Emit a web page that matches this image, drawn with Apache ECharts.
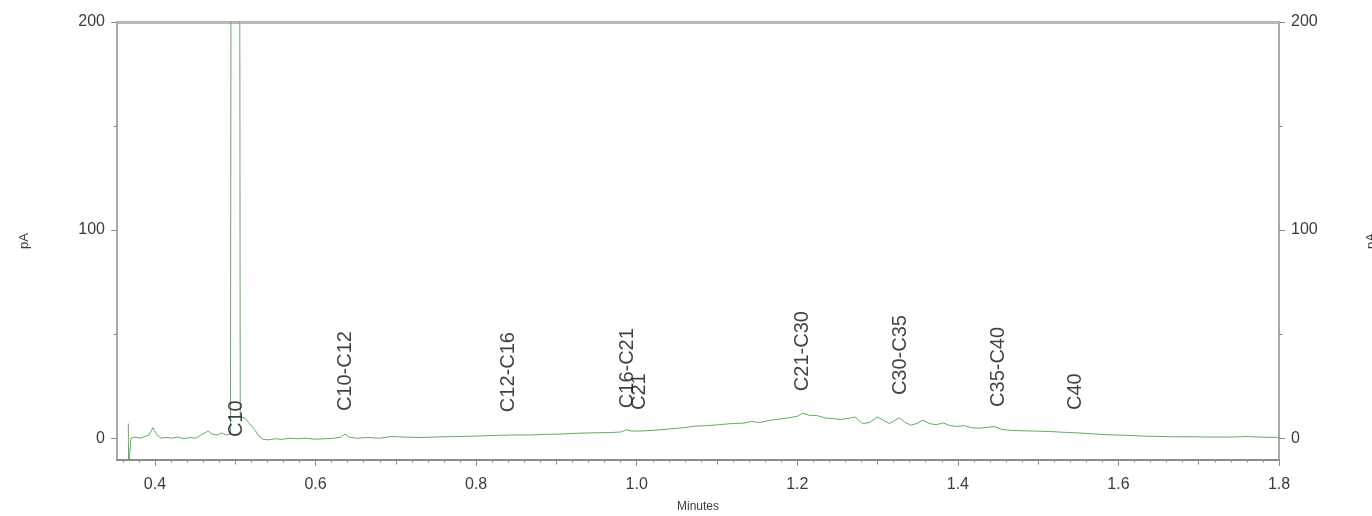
<!DOCTYPE html>
<html>
<head>
<meta charset="utf-8">
<title>Chromatogram</title>
<script src="https://cdn.jsdelivr.net/npm/echarts@6/dist/echarts.min.js"></script>
<style>
  html, body { margin: 0; padding: 0; background: #fff; }
  #chart { width: 1372px; height: 516px; }
</style>
</head>
<body>
<div id="chart"></div>
<script>
// Retention time (min) and detector signal (pA) of the FID trace
const times = [
  0.3668, 0.3672, 0.3685, 0.3700, 0.3751, 0.3813, 0.3876, 0.3925, 0.3975, 0.4025,
  0.4075, 0.4137, 0.4212, 0.4286, 0.4361, 0.4436, 0.4510, 0.4572, 0.4622, 0.4660,
  0.4709, 0.4772, 0.4834, 0.4884, 0.4940, 0.4948, 0.5000, 0.5055, 0.5062, 0.5120,
  0.5180, 0.5244, 0.5294, 0.5344, 0.5406, 0.5493, 0.5580, 0.5680, 0.5780, 0.5880,
  0.5990, 0.6116, 0.6240, 0.6315, 0.6365, 0.6414, 0.6514, 0.6650, 0.6800, 0.6950,
  0.7110, 0.7300, 0.7547, 0.7796, 0.8020, 0.8230, 0.8440, 0.8640, 0.8850, 0.9065,
  0.9290, 0.9513, 0.9688, 0.9810, 0.9870, 0.9936, 1.0098, 1.0285, 1.0434, 1.0584,
  1.0730, 1.0880, 1.1030, 1.1180, 1.1330, 1.1430, 1.1530, 1.1650, 1.1780, 1.1900,
  1.2000, 1.2065, 1.2150, 1.2250, 1.2340, 1.2440, 1.2550, 1.2650, 1.2720, 1.2810,
  1.2900, 1.3000, 1.3075, 1.3150, 1.3270, 1.3346, 1.3420, 1.3496, 1.3560, 1.3645,
  1.3730, 1.3820, 1.3890, 1.3980, 1.4080, 1.4170, 1.4270, 1.4370, 1.4455, 1.4540,
  1.4640, 1.4765, 1.4950, 1.5140, 1.5325, 1.5510, 1.5700, 1.5885, 1.6070, 1.6320,
  1.6630, 1.7005, 1.7380, 1.7620, 1.7750, 1.7990
];
const signal = [
  7.0, -15.0, -15.0, 0.0, 0.5, 0.0, 0.8, 1.5, 5.0, 1.5,
  0.0, 0.3, 0.0, 0.5, -0.3, 0.3, 0.0, 1.5, 2.5, 3.5,
  2.0, 1.5, 2.5, 1.5, 2.0, 260.0, 300.0, 260.0, 10.5, 9.5,
  7.0, 4.0, 1.0, -0.5, -0.8, -0.3, -0.6, 0.0, -0.3, 0.0,
  -0.5, -0.3, 0.0, 0.5, 2.0, 0.5, 0.0, 0.3, 0.0, 0.8,
  0.5, 0.3, 0.6, 0.8, 1.0, 1.3, 1.5, 1.5, 1.8, 2.0,
  2.4, 2.6, 2.7, 3.0, 4.0, 3.4, 3.5, 4.0, 4.5, 5.0,
  5.8, 6.0, 6.5, 7.0, 7.2, 8.0, 7.5, 8.5, 9.2, 9.8,
  10.5, 12.0, 11.0, 10.8, 9.8, 9.4, 9.0, 9.6, 10.2, 7.0,
  7.5, 10.2, 8.5, 7.0, 9.8, 7.5, 6.2, 7.2, 8.6, 7.0,
  6.5, 7.3, 6.2, 5.6, 6.0, 5.0, 4.8, 5.2, 5.6, 4.3,
  3.8, 3.6, 3.4, 3.2, 2.8, 2.5, 2.0, 1.6, 1.4, 1.0,
  0.7, 0.6, 0.5, 0.8, 0.5, 0.4
];

// Carbon-range annotations: retention time and the pA level where each label starts
const peakNames  = ['C10', 'C10-C12', 'C12-C16', 'C16-C21', 'C21', 'C21-C30', 'C30-C35', 'C35-C40', 'C40'];
const peakTimes  = [0.502, 0.637, 0.840, 0.989, 1.004, 1.207, 1.329, 1.450, 1.546];
const peakLevels = [0.5, 13.0, 12.5, 14.4, 13.5, 22.6, 20.7, 15.0, 13.5];

// Axis ticks
const xLabelTicks = [0.4, 0.6, 0.8, 1.0, 1.2, 1.4, 1.6, 1.8];
const xMidTicks   = [0.5, 0.7, 0.9, 1.1, 1.3, 1.5, 1.7];
const yLabelTicks = [0, 100, 200];
const yMinorTicks = [50, 150];

const X_MIN = 0.3527, X_MAX = 1.8;
const Y_MIN = -10.5, Y_MAX = 200;

// small x ticks every 0.02 min, skipping the labelled and mid ticks
const xSmallTicks = [];
for (let i = 18; i <= 90; i++) {
  if (i % 5 !== 0) xSmallTicks.push(+(i * 0.02).toFixed(2));
}

const axisGrey = '#8c8c8c';
const textGrey = '#3c3c3c';
const FONT = '"Liberation Sans", Arial, sans-serif';

function xAxisDef(ticks, len, extra) {
  return Object.assign({
    type: 'value', min: X_MIN, max: X_MAX, position: 'bottom',
    axisLine: { show: false, onZero: false },
    axisTick: { show: true, customValues: ticks, length: len, lineStyle: { color: axisGrey, width: 1 } },
    axisLabel: { show: false, customValues: ticks },
    splitLine: { show: false }
  }, extra || {});
}

function yAxisDef(pos, ticks, len, withLabels, extra) {
  return Object.assign({
    type: 'value', min: Y_MIN, max: Y_MAX, position: pos,
    axisLine: { show: withLabels, onZero: false, lineStyle: { color: axisGrey, width: 1.5 } },
    axisTick: { show: true, customValues: ticks, length: len, lineStyle: { color: axisGrey, width: 1 } },
    axisLabel: {
      show: withLabels, customValues: ticks, margin: 12,
      color: textGrey, fontSize: 16, fontFamily: FONT
    },
    splitLine: { show: false }
  }, extra || {});
}

const chart = echarts.init(document.getElementById('chart'), null, { renderer: 'canvas' });

chart.setOption({
  animation: false,
  backgroundColor: '#ffffff',
  grid: { left: 117, right: 93, top: 22, bottom: 56, containLabel: false, outerBoundsMode: 'none' },
  xAxis: [
    xAxisDef(xLabelTicks, 6, {
      name: 'Minutes', nameLocation: 'middle', nameGap: 41,
      nameTextStyle: { color: textGrey, fontSize: 12, fontFamily: FONT },
      axisLine: { show: true, onZero: false, lineStyle: { color: axisGrey, width: 2 } },
      axisLabel: {
        show: true, customValues: xLabelTicks, margin: 17,
        color: textGrey, fontSize: 16, fontFamily: FONT,
        formatter: v => v.toFixed(1)
      }
    }),
    xAxisDef(xMidTicks, 4.5),
    xAxisDef(xSmallTicks, 2.5),
    // top frame line
    {
      type: 'value', min: X_MIN, max: X_MAX, position: 'top',
      axisLine: { show: true, onZero: false, lineStyle: { color: '#b9b9b9', width: 3 } },
      axisTick: { show: false }, axisLabel: { show: false }, splitLine: { show: false }
    }
  ],
  yAxis: [
    yAxisDef('left', yLabelTicks, 6, true, {
      name: 'pA', nameLocation: 'middle', nameGap: 86,
      nameTextStyle: { color: textGrey, fontSize: 13, fontFamily: FONT }
    }),
    yAxisDef('left', yMinorTicks, 3.5, false),
    yAxisDef('right', yLabelTicks, 6, true, {
      name: 'pA', nameLocation: 'middle', nameGap: 86,
      nameTextStyle: { color: textGrey, fontSize: 13, fontFamily: FONT }
    }),
    yAxisDef('right', yMinorTicks, 3.5, false)
  ],
  series: [
    {
      name: 'FID signal',
      type: 'line',
      xAxisIndex: 0, yAxisIndex: 0,
      data: times.map((t, i) => [t, signal[i]]),
      showSymbol: false,
      symbol: 'none',
      clip: true,
      lineStyle: { color: '#62ad62', width: 1 },
      silent: true
    },
    {
      name: 'Carbon ranges',
      type: 'scatter',
      xAxisIndex: 0, yAxisIndex: 0,
      data: peakNames.map((n, i) => ({ name: n, value: [peakTimes[i], peakLevels[i]] })),
      symbolSize: 1,
      itemStyle: { color: 'rgba(0,0,0,0)' },
      silent: true,
      z: 5,
      label: {
        show: true,
        formatter: '{b}',
        position: 'inside',
        rotate: 90,
        align: 'left',
        verticalAlign: 'middle',
        color: '#111111',
        fontSize: 20,
        fontFamily: FONT
      },
      labelLayout: { hideOverlap: false }
    }
  ]
});
</script>
</body>
</html>
